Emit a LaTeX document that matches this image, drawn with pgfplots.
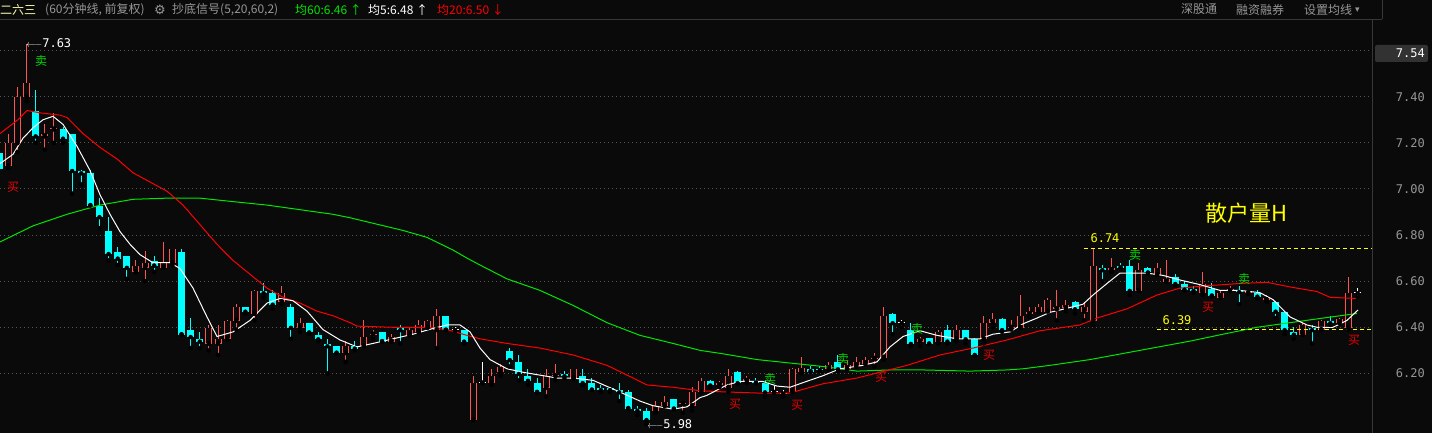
\documentclass[border=0pt]{standalone}
\usepackage{fontspec}
\usepackage{pgfplots}
\usepackage{pgfplotstable}
\pgfplotsset{compat=1.18}
\setmainfont{DejaVu Sans}
\newfontfamily\cjk{Noto Sans CJK SC}
\newfontfamily\mono{DejaVu Sans Mono}

\definecolor{bg}{RGB}{10,10,10}
\definecolor{upred}{RGB}{255,84,84}
\definecolor{dncyan}{RGB}{0,255,255}
\definecolor{ma20c}{RGB}{255,0,0}
\definecolor{ma60c}{RGB}{0,230,0}
\definecolor{gridc}{RGB}{85,85,85}
\definecolor{axgray}{RGB}{150,150,150}
\definecolor{sigred}{RGB}{230,0,0}
\definecolor{siggreen}{RGB}{0,210,0}
\definecolor{hiyel}{RGB}{255,255,0}
\definecolor{lineg}{RGB}{55,55,55}

% 60-minute candles: index, open, high, low, close
% rising (red, hollow) candles
\pgfplotstableread{
i o h l c
1 7.10 7.24 7.09 7.20
2 7.20 7.44 7.16 7.40
3 7.40 7.63 7.38 7.46
5 7.23 7.28 7.17 7.24
6 7.26 7.33 7.20 7.26
15 6.64 6.69 6.64 6.67
16 6.66 6.73 6.60 6.68
18 6.66 6.77 6.66 6.68
19 6.68 6.74 6.67 6.74
23 6.33 6.41 6.30 6.40
24 6.33 6.41 6.28 6.35
25 6.35 6.43 6.345 6.43
26 6.43 6.50 6.39 6.49
28 6.46 6.56 6.43 6.56
31 6.51 6.58 6.50 6.55
33 6.40 6.44 6.38 6.42
38 6.29 6.34 6.25 6.32
40 6.32 6.43 6.32 6.36
41 6.37 6.39 6.35 6.37
43 6.34 6.37 6.34 6.36
45 6.37 6.40 6.365 6.39
46 6.38 6.43 6.38 6.41
47 6.40 6.43 6.40 6.43
48 6.39 6.48 6.31 6.45
52 6.00 6.19 6.00 6.16
54 6.16 6.22 6.15 6.19
55 6.21 6.24 6.19 6.23
60 6.14 6.22 6.10 6.19
61 6.19 6.24 6.17 6.19
63 6.18 6.22 6.18 6.22
72 6.04 6.08 6.03 6.06
73 6.06 6.10 6.06 6.08
75 6.07 6.08 6.03 6.07
76 6.06 6.14 6.04 6.12
77 6.12 6.18 6.12 6.17
79 6.15 6.165 6.14 6.16
80 6.14 6.22 6.12 6.19
82 6.17 6.19 6.16 6.18
87 6.12 6.225 6.12 6.22
88 6.21 6.27 6.20 6.225
91 6.22 6.25 6.215 6.24
93 6.22 6.26 6.22 6.24
94 6.235 6.27 6.23 6.25
95 6.245 6.27 6.24 6.26
96 6.265 6.29 6.23 6.265
97 6.27 6.49 6.26 6.45
101 6.34 6.36 6.32 6.35
103 6.34 6.39 6.33 6.38
105 6.35 6.41 6.34 6.39
108 6.35 6.45 6.33 6.42
109 6.42 6.46 6.40 6.44
111 6.40 6.43 6.39 6.40
112 6.40 6.54 6.40 6.45
113 6.46 6.49 6.445 6.47
114 6.47 6.50 6.465 6.49
115 6.47 6.525 6.47 6.52
116 6.48 6.56 6.43 6.49
117 6.485 6.52 6.47 6.50
119 6.47 6.51 6.43 6.49
120 6.43 6.74 6.41 6.67
122 6.65 6.70 6.64 6.66
125 6.56 6.68 6.56 6.65
127 6.63 6.68 6.63 6.66
128 6.60 6.69 6.60 6.61
132 6.55 6.64 6.54 6.59
134 6.53 6.56 6.53 6.55
135 6.56 6.58 6.555 6.57
137 6.55 6.56 6.545 6.56
139 6.52 6.54 6.51 6.53
143 6.37 6.42 6.37 6.41
145 6.39 6.43 6.39 6.43
147 6.42 6.44 6.42 6.44
148 6.40 6.62 6.39 6.55
}\upbars

% falling (cyan, filled) candles
\pgfplotstableread{
i o h l c
0 7.16 7.16 7.09 7.09
4 7.34 7.43 7.20 7.23
7 7.26 7.27 7.20 7.22
8 7.24 7.24 6.98 7.08
9 7.08 7.08 7.02 7.07
10 7.07 7.08 6.93 6.93
11 6.93 6.96 6.83 6.88
12 6.82 6.88 6.69 6.72
13 6.73 6.75 6.67 6.70
14 6.71 6.71 6.61 6.66
17 6.69 6.71 6.64 6.67
20 6.73 6.74 6.37 6.37
21 6.39 6.44 6.31 6.36
22 6.35 6.38 6.31 6.34
27 6.49 6.49 6.46 6.47
29 6.56 6.59 6.53 6.55
30 6.55 6.56 6.48 6.50
32 6.49 6.50 6.35 6.40
34 6.42 6.42 6.37 6.38
35 6.37 6.38 6.34 6.35
36 6.33 6.35 6.20 6.32
37 6.32 6.32 6.29 6.29
39 6.32 6.34 6.30 6.31
42 6.38 6.38 6.34 6.34
44 6.40 6.41 6.33 6.39
49 6.45 6.45 6.39 6.39
51 6.39 6.39 6.33 6.34
56 6.30 6.31 6.23 6.26
57 6.25 6.28 6.17 6.20
58 6.19 6.22 6.15 6.17
59 6.16 6.18 6.12 6.12
62 6.20 6.21 6.18 6.19
64 6.19 6.22 6.15 6.16
65 6.16 6.18 6.13 6.13
66 6.14 6.15 6.12 6.13
67 6.14 6.14 6.12 6.13
68 6.13 6.16 6.08 6.12
69 6.12 6.13 6.05 6.05
70 6.05 6.06 6.02 6.04
71 6.04 6.05 5.98 6.00
74 6.09 6.09 6.045 6.05
78 6.17 6.17 6.14 6.15
81 6.21 6.21 6.155 6.16
83 6.17 6.18 6.16 6.16
84 6.16 6.17 6.10 6.12
89 6.22 6.23 6.21 6.21
90 6.22 6.23 6.21 6.215
92 6.25 6.28 6.21 6.22
98 6.46 6.46 6.37 6.42
100 6.39 6.42 6.32 6.33
102 6.355 6.355 6.33 6.33
104 6.39 6.41 6.33 6.34
106 6.39 6.39 6.33 6.35
107 6.35 6.355 6.28 6.28
110 6.44 6.44 6.38 6.39
118 6.51 6.515 6.46 6.48
121 6.66 6.67 6.60 6.65
123 6.67 6.68 6.66 6.66
124 6.67 6.69 6.54 6.56
126 6.66 6.66 6.635 6.64
129 6.62 6.63 6.58 6.59
130 6.59 6.60 6.56 6.565
131 6.57 6.58 6.55 6.56
133 6.57 6.59 6.535 6.54
136 6.56 6.58 6.50 6.555
138 6.55 6.56 6.525 6.535
140 6.51 6.515 6.44 6.47
141 6.47 6.47 6.37 6.39
142 6.38 6.40 6.35 6.37
144 6.40 6.41 6.33 6.39
146 6.43 6.45 6.41 6.42
}\downbars

% unchanged (white cross) candles
\pgfplotstableread{
i o h l c
50 6.39 6.40 6.38 6.39
53 6.16 6.25 6.16 6.16
85 6.12 6.145 6.12 6.12
86 6.115 6.13 6.10 6.115
99 6.42 6.43 6.40 6.42
149 6.55 6.57 6.53 6.55
}\flatbars

% moving averages (x in pixels)
\pgfplotstableread{
px v
0 7.11
13 7.15
23 7.22
33 7.265
43 7.30
53 7.315
63 7.28
77 7.185
90 7.08
100 6.975
110 6.89
120 6.815
130 6.76
140 6.715
153 6.68
170 6.68
180 6.655
193 6.57
207 6.445
217 6.36
233 6.38
250 6.43
267 6.505
280 6.525
293 6.515
307 6.47
323 6.39
340 6.345
357 6.315
373 6.33
393 6.35
413 6.37
433 6.395
447 6.41
460 6.41
470 6.38
480 6.31
490 6.26
507 6.22
523 6.205
557 6.18
573 6.18
593 6.17
617 6.125
640 6.08
653 6.06
673 6.045
687 6.055
700 6.095
707 6.105
727 6.15
740 6.165
763 6.165
777 6.145
790 6.14
803 6.16
823 6.19
840 6.22
863 6.235
877 6.25
890 6.315
903 6.36
920 6.385
937 6.365
957 6.35
980 6.35
993 6.37
1010 6.38
1023 6.415
1037 6.44
1050 6.465
1060 6.475
1083 6.50
1093 6.54
1107 6.59
1120 6.635
1147 6.635
1163 6.625
1180 6.605
1200 6.585
1220 6.56
1240 6.56
1260 6.55
1273 6.52
1290 6.445
1307 6.41
1317 6.40
1333 6.40
1347 6.43
1358 6.475
}\maFive

\pgfplotstableread{
px v
0 7.24
9 7.27
18 7.30
27 7.34
40 7.33
60 7.32
67 7.31
83 7.24
100 7.18
117 7.13
133 7.07
150 7.03
167 6.99
183 6.93
200 6.845
217 6.76
233 6.69
250 6.63
267 6.57
283 6.53
300 6.505
317 6.47
333 6.45
350 6.42
357 6.405
393 6.40
427 6.40
447 6.39
467 6.365
480 6.35
507 6.33
540 6.31
573 6.28
607 6.235
633 6.18
647 6.15
673 6.14
700 6.125
723 6.12
757 6.115
790 6.115
823 6.155
857 6.18
880 6.205
907 6.235
940 6.28
973 6.31
1007 6.345
1040 6.385
1080 6.41
1097 6.44
1127 6.48
1157 6.54
1180 6.57
1207 6.58
1240 6.59
1267 6.595
1290 6.575
1317 6.555
1330 6.53
1357 6.525
}\maTwenty

\pgfplotstableread{
px v
0 6.77
33 6.84
67 6.89
100 6.93
133 6.955
167 6.96
200 6.96
233 6.945
267 6.93
300 6.91
333 6.89
350 6.875
403 6.82
427 6.79
453 6.735
467 6.70
480 6.67
507 6.61
540 6.56
573 6.495
607 6.42
640 6.365
673 6.33
700 6.30
723 6.285
757 6.26
790 6.245
823 6.23
857 6.21
890 6.215
923 6.215
970 6.21
1007 6.215
1023 6.22
1050 6.235
1090 6.26
1140 6.30
1190 6.34
1223 6.37
1257 6.40
1290 6.42
1323 6.44
1357 6.46
}\maSixty

\newcommand{\hz}{\cjk\fontsize{12}{12}\selectfont}
\newcommand{\mz}{\mono\fontsize{12}{12}\selectfont}

% a vertical stick drawn upward from y by its error value
\pgfplotsset{
  stick/.style={only marks, mark=none,
    error bars/.cd, y dir=plus, y explicit, error mark=none,
    error bar style={#1}},
}

\begin{document}
\begin{tikzpicture}
\fill[bg] (0,0) rectangle (1432pt,433pt);
\begin{axis}[
  at={(0pt,0pt)}, anchor=south west,
  scale only axis, width=1372pt, height=413pt,
  xmin=0, xmax=1372, ymin=5.9416, ymax=7.7326,
  axis x line=none, axis y line*=right,
  y axis line style={draw=none},
  major tick length=0pt,
  ytick={6.2,6.4,6.6,6.8,7.0,7.2,7.4,7.6},
  yticklabels={6.20,6.40,6.60,6.80,7.00,7.20,7.40,{}},
  yticklabel style={font=\mz, text=axgray, anchor=east, inner sep=0pt, xshift=53pt},
  ymajorgrids,
  major grid style={gridc, line width=1pt, dash pattern=on 1pt off 3pt},
]
% wicks
\addplot[stick={upred, line width=1pt}]
  table[x expr=9.117*\thisrow{i}-0.8, y=l,
        y error expr=\thisrow{h}-\thisrow{l}] {\upbars};
\addplot[stick={dncyan, line width=1pt}]
  table[x expr=9.117*\thisrow{i}-0.8, y=l,
        y error expr=\thisrow{h}-\thisrow{l}] {\downbars};
\addplot[stick={white, line width=1pt}]
  table[x expr=9.117*\thisrow{i}-0.8, y=l,
        y error expr=\thisrow{h}-\thisrow{l}] {\flatbars};
% bodies
\addplot[stick={dncyan, line width=7pt}]
  table[x expr=9.117*\thisrow{i}-0.8, y expr=\thisrow{c}-0.0022,
        y error expr={max(\thisrow{o}-\thisrow{c},0.0044)}] {\downbars};
\addplot[stick={white, line width=7pt}]
  table[x expr=9.117*\thisrow{i}-0.8, y expr=\thisrow{c}-0.0022,
        y error expr=0.0044] {\flatbars};
\addplot[stick={upred, line width=7pt}]
  table[x expr=9.117*\thisrow{i}-0.8, y expr=\thisrow{o}-0.0022,
        y error expr={max(\thisrow{c}-\thisrow{o},0.0044)}] {\upbars};
\addplot[stick={bg, line width=5pt}]
  table[x expr=9.117*\thisrow{i}-0.8, y expr=\thisrow{o}+0.0022,
        y error expr={max(\thisrow{c}-\thisrow{o}-0.0044,0)}] {\upbars};

% moving averages
\addplot[ma60c, line width=1pt, no marks] table[x=px, y=v] {\maSixty};
\addplot[ma20c, line width=1pt, no marks] table[x=px, y=v] {\maTwenty};
\addplot[white, line width=1pt, no marks] table[x=px, y=v] {\maFive};

% high / low level lines
\addplot[hiyel, line width=1pt, dash pattern=on 4pt off 3pt] coordinates {(1084,6.74) (1372,6.74)};
\addplot[hiyel, line width=1pt, dash pattern=on 4pt off 3pt] coordinates {(1157,6.39) (1372,6.39)};

% annotations
\node[anchor=west, white, inner sep=0pt] at (axis cs:26,7.632) {$\longleftarrow$\mz 7.63};
\node[anchor=west, white, inner sep=0pt] at (axis cs:647,5.982) {$\longleftarrow$\mz 5.98};
\node[font=\mz, hiyel, inner sep=0pt] at (axis cs:1105,6.785) {6.74};
\node[font=\mz, hiyel, inner sep=0pt] at (axis cs:1177,6.43) {6.39};
\node[font=\cjk\fontsize{22}{22}\selectfont, hiyel, inner sep=0pt] at (axis cs:1246,6.894) {散户量H};
\node[font=\hz, siggreen, inner sep=0pt] at (axis cs:41,7.553) {卖};
\node[font=\hz, sigred, inner sep=0pt] at (axis cs:13,7.007) {买};
\node[font=\hz, sigred, inner sep=0pt] at (axis cs:735,6.066) {买};
\node[font=\hz, sigred, inner sep=0pt] at (axis cs:797,6.062) {买};
\node[font=\hz, siggreen, inner sep=0pt] at (axis cs:770,6.175) {卖};
\node[font=\hz, siggreen, inner sep=0pt] at (axis cs:843,6.261) {卖};
\node[font=\hz, sigred, inner sep=0pt] at (axis cs:881,6.183) {买};
\node[font=\hz, siggreen, inner sep=0pt] at (axis cs:917,6.391) {卖};
\node[font=\hz, sigred, inner sep=0pt] at (axis cs:989,6.279) {买};
\node[font=\hz, siggreen, inner sep=0pt] at (axis cs:1135,6.712) {卖};
\node[font=\hz, sigred, inner sep=0pt] at (axis cs:1208,6.487) {买};
\node[font=\hz, siggreen, inner sep=0pt] at (axis cs:1244,6.608) {卖};
\node[font=\hz, sigred, inner sep=0pt] at (axis cs:1354,6.344) {买};
\end{axis}

% frame, header and price box (image pixel coordinates, y downwards)
\begin{scope}[x=1pt, y=-1pt, yshift=433pt]
\draw[lineg, line width=1pt] (1372.5,20) -- (1372.5,433);
\draw[lineg, line width=1pt] (0,19.5) -- (1382,19.5);
\draw[lineg, line width=1pt] (1382.5,0) -- (1382.5,19.5);
\fill[rounded corners=2pt, fill={rgb,255:red,50;green,50;blue,50}] (1375,45) rectangle (1428,62);
\node[anchor=east, font=\mz, white, inner sep=0pt] at (1425,53.5) {7.54};
\node[anchor=west, font=\hz, text={rgb,255:red,255;green,255;blue,170}, inner sep=0pt] at (0,9.5) {二六三};
\node[anchor=west, font=\hz, text=axgray, inner sep=0pt] at (45,9.5) {(60分钟线, 前复权)};
\node[anchor=west, font=\fontsize{13}{13}\selectfont, text=axgray, inner sep=0pt] at (154,9.5) {⚙};
\node[anchor=west, font=\hz, text=axgray, inner sep=0pt] at (172,9.5) {抄底信号(5,20,60,2)};
\node[anchor=west, font=\hz, text=ma60c, inner sep=0pt] at (295,9.5) {均60:6.46 ↑};
\node[anchor=west, font=\hz, text=white, inner sep=0pt] at (368,9.5) {均5:6.48 ↑};
\node[anchor=west, font=\hz, text=ma20c, inner sep=0pt] at (437,9.5) {均20:6.50 ↓};
\node[anchor=west, font=\hz, text=axgray, inner sep=0pt] at (1181,9.5) {深股通};
\node[anchor=west, font=\hz, text=axgray, inner sep=0pt] at (1236,9.5) {融资融券};
\node[anchor=west, font=\hz, text=axgray, inner sep=0pt] at (1304,9.5) {设置均线};
\node[anchor=west, font=\fontsize{9}{9}\selectfont, text=axgray, inner sep=0pt] at (1355,10) {▾};
\end{scope}
\pgfresetboundingbox
\path[use as bounding box] (0,0) rectangle (1432pt,433pt);
\end{tikzpicture}
\end{document}
